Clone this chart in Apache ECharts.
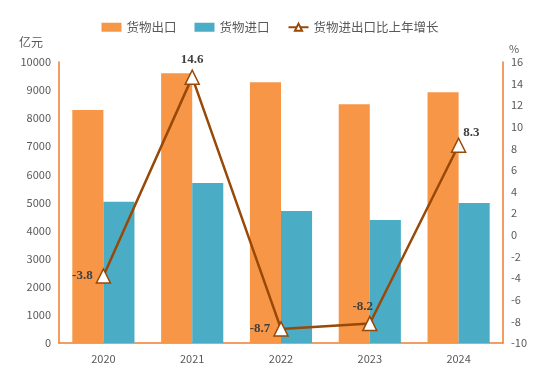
<!DOCTYPE html>
<html>
<head>
<meta charset="utf-8">
<script src="https://cdn.jsdelivr.net/npm/echarts@6/dist/echarts.min.js"></script>
<style>
  html, body { margin: 0; padding: 0; background: #fff; }
  #chart { width: 540px; height: 376px; }
</style>
</head>
<body>
<div id="chart"></div>
<script>
const years = ['2020', '2021', '2022', '2023', '2024'];
const exportValues = [8290, 9600, 9280, 8500, 8920];
const importValues = [5030, 5690, 4700, 4380, 4980];
const growthValues = [-3.8, 14.6, -8.7, -8.2, 8.3];
const growthLabelPos = ['left', 'top', 'left', 'top', 'right'];

const axisColor = '#ED7D31';
const textColor = '#595959';

const chart = echarts.init(document.getElementById('chart'));

// label nudges so the numbers sit where the original put them
const labelOffsets = [[0, 0], [0, 0], [0, 0], [-7, 0], [-6, -13]];

const option = {
  animation: false,
  textStyle: { fontFamily: '"Noto Sans CJK SC", sans-serif' },
  legend: {
    top: 16,
    left: 'center',
    itemWidth: 20,
    itemHeight: 9,
    itemGap: 18,
    textStyle: { color: textColor, fontSize: 12.5 },
    data: [
      { name: '货物出口', icon: 'rect' },
      { name: '货物进口', icon: 'rect' },
      { name: '货物进出口比上年增长' }
    ]
  },
  grid: { left: 59, right: 37, top: 62, bottom: 33 },
  xAxis: {
    type: 'category',
    data: years,
    axisLine: { lineStyle: { color: axisColor, width: 1.5 } },
    axisTick: { show: false },
    axisLabel: { color: textColor, fontSize: 11, margin: 10 }
  },
  yAxis: [
    {
      type: 'value',
      name: '亿元',
      nameGap: 14,
      nameTextStyle: { color: textColor, fontSize: 12, align: 'right', padding: [0, 16, 0, 0] },
      min: 0, max: 10000, interval: 1000,
      axisLine: { show: true, lineStyle: { color: axisColor, width: 1.5 } },
      axisTick: { show: false },
      splitLine: { show: false },
      axisLabel: { color: textColor, fontSize: 11, margin: 8, formatter: v => String(v) }
    },
    {
      type: 'value',
      name: '%',
      nameGap: 8,
      nameTextStyle: { color: textColor, fontSize: 11, align: 'left', padding: [0, 0, 0, 6] },
      min: -10, max: 16, interval: 2,
      axisLine: { show: true, lineStyle: { color: axisColor, width: 1.5 } },
      axisTick: { show: false },
      splitLine: { show: false },
      axisLabel: { color: textColor, fontSize: 11, margin: 8 }
    }
  ],
  series: [
    {
      name: '货物出口',
      type: 'bar',
      data: exportValues,
      barGap: '0%',
      barCategoryGap: '30%',
      itemStyle: { color: '#F79646' }
    },
    {
      name: '货物进口',
      type: 'bar',
      data: importValues,
      itemStyle: { color: '#4BACC6' }
    },
    {
      name: '货物进出口比上年增长',
      type: 'line',
      yAxisIndex: 1,
      data: growthValues.map((v, i) => ({
        value: v,
        label: { position: growthLabelPos[i], offset: labelOffsets[i] }
      })),
      symbol: 'triangle',
      symbolSize: 14,
      lineStyle: { color: '#984807', width: 2.5 },
      itemStyle: { color: '#fff', borderColor: '#984807', borderWidth: 1.5 },
      label: {
        show: true,
        color: '#404040',
        fontFamily: '"Liberation Serif", serif',
        fontWeight: 'bold',
        fontSize: 13,
        distance: 3,
        formatter: p => p.value.toFixed(1)
      },
      z: 5
    }
  ]
};

chart.setOption(option);
</script>
</body>
</html>
